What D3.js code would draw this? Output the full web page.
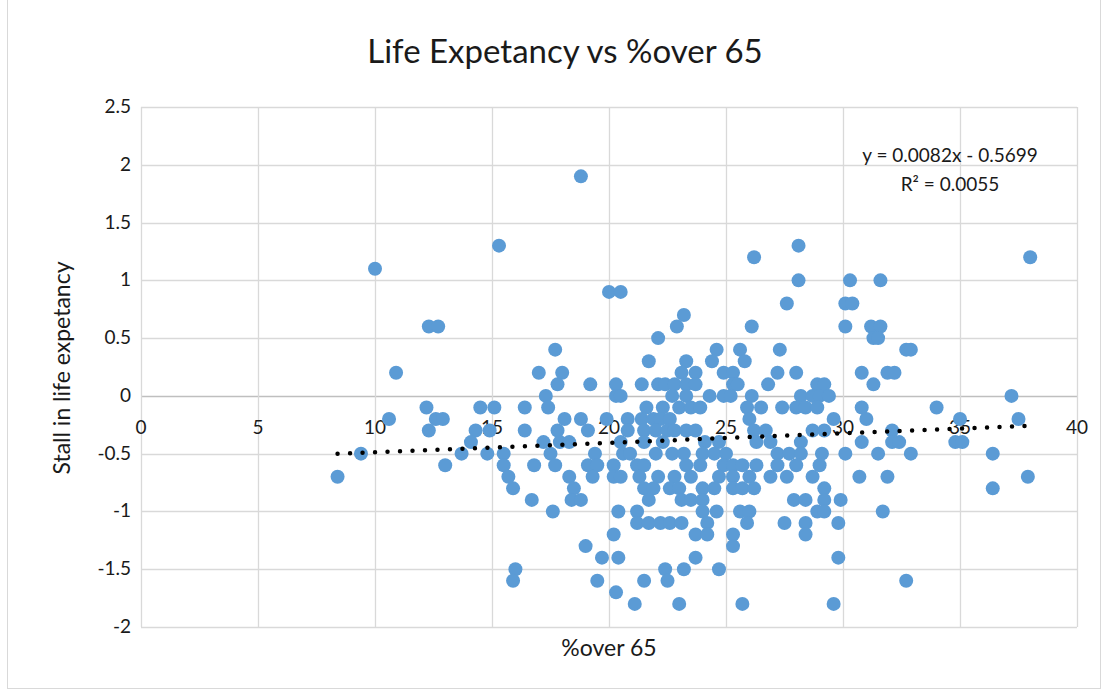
<!DOCTYPE html>
<html lang="en">
<head>
<meta charset="UTF-8">
<title>Life Expetancy vs %over 65</title>
<script src="https://d3js.org/d3.v7.min.js"></script>
<style>
    body { margin: 0; background: #fff; }
    text { font-family: Lato, "Open Sans", sans-serif; fill: #1a1a1a; }
</style>
</head>
<body>
<svg id="chart" width="1103" height="690"></svg>
<script>
    // stall in life expectancy, one entry per row of points
    var stallLevels = [1.9, 1.3, 1.2, 1.1, 1.0, 0.9, 0.8, 0.7, 0.6, 0.5, 0.4, 0.3, 0.2, 0.1, 0.0,
        -0.1, -0.2, -0.3, -0.4, -0.5, -0.6, -0.7, -0.8, -0.9, -1.0, -1.1, -1.2, -1.3, -1.4, -1.5, -1.6, -1.7, -1.8];

    // %over 65 for every point in that row
    var pctOver65 = [
        [18.8],
        [15.3, 28.1],
        [26.2, 38.0],
        [10.0],
        [28.1, 30.3, 31.6],
        [20.0, 20.5],
        [27.6, 30.1, 30.4],
        [23.2],
        [12.3, 12.7, 22.9, 26.1, 30.1, 31.2, 31.6],
        [22.1, 31.3, 31.5],
        [17.7, 24.6, 25.6, 27.3, 32.7, 32.9],
        [21.7, 23.3, 24.4, 25.8],
        [10.9, 17.0, 18.0, 23.1, 23.7, 24.9, 25.3, 27.2, 28.0, 30.8, 31.9, 32.2],
        [17.8, 19.2, 20.3, 21.4, 22.1, 22.4, 22.8, 23.3, 23.7, 25.3, 25.5, 26.8, 28.9, 29.2, 31.3],
        [17.3, 20.3, 20.5, 22.7, 23.3, 24.3, 24.9, 25.2, 26.1, 28.2, 28.7, 29.0, 29.4, 37.2],
        [12.2, 14.5, 15.1, 16.4, 17.4, 21.6, 22.3, 23.0, 23.5, 23.9, 25.9, 26.5, 27.4, 28.0, 28.4, 28.9, 30.8, 34.0],
        [10.6, 12.6, 12.9, 18.1, 18.8, 19.9, 20.8, 21.4, 21.9, 22.2, 22.6, 26.0, 29.6, 31.0, 35.0, 37.5],
        [12.3, 14.3, 14.9, 16.4, 17.8, 19.1, 20.8, 21.5, 22.0, 22.5, 22.8, 23.3, 23.7, 26.2, 26.7, 28.7, 29.2, 32.1],
        [14.1, 17.2, 17.9, 18.3, 20.5, 21.5, 22.3, 24.1, 24.7, 26.3, 26.9, 28.2, 30.8, 32.1, 32.4, 34.8, 35.1],
        [9.4, 13.7, 14.8, 15.5, 17.5, 19.4, 20.6, 20.9, 22.0, 22.7, 23.2, 24.0, 24.5, 25.0, 27.2, 27.7, 28.2, 29.1, 30.1, 31.5, 32.9, 36.4],
        [13.0, 15.5, 16.8, 17.7, 19.1, 19.5, 20.2, 21.2, 21.5, 23.3, 23.9, 24.9, 25.3, 25.7, 26.3, 27.2, 28.0, 29.0],
        [8.4, 15.7, 18.3, 19.3, 20.2, 20.5, 21.3, 22.1, 22.8, 23.5, 24.7, 25.3, 26.0, 26.9, 27.6, 28.7, 30.7, 31.9, 37.9],
        [15.9, 18.5, 21.5, 21.9, 22.6, 23.0, 24.0, 24.5, 25.3, 25.7, 26.2, 29.2, 36.4],
        [16.7, 18.4, 18.8, 21.7, 23.1, 23.5, 24.0, 27.9, 28.4, 29.2, 29.9],
        [17.6, 20.4, 21.2, 24.0, 24.6, 25.6, 26.0, 28.9, 29.2, 31.7],
        [21.2, 21.7, 22.2, 22.6, 23.1, 24.2, 25.9, 27.5, 28.4, 29.8],
        [20.2, 23.7, 24.2, 25.3, 28.4],
        [19.0, 25.3],
        [19.7, 20.4, 23.7, 29.8],
        [16.0, 22.4, 23.2, 24.7],
        [15.9, 19.5, 21.5, 22.5, 32.7],
        [20.3],
        [21.1, 23.0, 25.7, 29.6]
    ];

    var xTicks = [0, 5, 10, 15, 20, 25, 30, 35, 40];
    var yTicks = [-2, -1.5, -1, -0.5, 0, 0.5, 1, 1.5, 2, 2.5];

    // linear trendline as reported by the chart
    var trendSlope = 0.0082;
    var trendIntercept = -0.5699;
    var trendLabel = "y = 0.0082x - 0.5699";
    var r2Label = "R² = 0.0055";

    var points = [];
    stallLevels.forEach(function (s, i) {
        pctOver65[i].forEach(function (p) { points.push({ x: p, y: s }); });
    });

    var svg = d3.select("#chart");

    // outer chart border
    svg.append("rect")
        .attr("x", 7.5).attr("y", -1)
        .attr("width", 1093).attr("height", 689.5)
        .attr("fill", "none").attr("stroke", "#d9d9d9");

    var x = d3.scaleLinear().domain([0, 40]).range([141, 1077]);
    var y = d3.scaleLinear().domain([-2, 2.5]).range([627, 107]);

    // gridlines
    svg.append("g").selectAll("line").data(yTicks).enter().append("line")
        .attr("x1", x(0)).attr("x2", x(40))
        .attr("y1", function (d) { return Math.round(y(d)) + 0.5; })
        .attr("y2", function (d) { return Math.round(y(d)) + 0.5; })
        .attr("stroke", function (d) { return d === 0 ? "#bfbfbf" : "#d9d9d9"; })
        .attr("stroke-width", 1.3);

    svg.append("g").selectAll("line").data(xTicks).enter().append("line")
        .attr("y1", y(2.5)).attr("y2", y(-2))
        .attr("x1", function (d) { return Math.round(x(d)) + 0.5; })
        .attr("x2", function (d) { return Math.round(x(d)) + 0.5; })
        .attr("stroke", "#d9d9d9")
        .attr("stroke-width", 1.3);

    // x tick labels sit under the y=0 line
    svg.append("g").selectAll("text").data(xTicks).enter().append("text")
        .attr("x", function (d) { return x(d); })
        .attr("y", y(0) + 38)
        .attr("text-anchor", "middle")
        .attr("font-size", 19)
        .text(function (d) { return d; });

    svg.append("g").selectAll("text").data(yTicks).enter().append("text")
        .attr("x", 131)
        .attr("y", function (d) { return y(d) + 6; })
        .attr("text-anchor", "end")
        .attr("font-size", 19)
        .text(function (d) { return d; });

    // points
    svg.append("g").selectAll("circle").data(points).enter().append("circle")
        .attr("cx", function (d) { return x(d.x); })
        .attr("cy", function (d) { return y(d.y); })
        .attr("r", 7)
        .attr("fill", "#5b9bd5");

    // dotted trendline across the data range
    var xExtent = d3.extent(points, function (d) { return d.x; });
    svg.append("line")
        .attr("x1", x(xExtent[0])).attr("y1", y(trendSlope * xExtent[0] + trendIntercept))
        .attr("x2", x(xExtent[1])).attr("y2", y(trendSlope * xExtent[1] + trendIntercept))
        .attr("stroke", "#000")
        .attr("stroke-width", 4.5)
        .attr("stroke-linecap", "round")
        .attr("stroke-dasharray", "0 12.5");

    svg.append("text").attr("x", 950).attr("y", 162)
        .attr("text-anchor", "middle").attr("font-size", 19)
        .text(trendLabel);
    svg.append("text").attr("x", 950).attr("y", 191)
        .attr("text-anchor", "middle").attr("font-size", 19)
        .text(r2Label);

    // titles
    svg.append("text").attr("x", 565).attr("y", 63)
        .attr("text-anchor", "middle").attr("font-size", 33)
        .text("Life Expetancy vs %over 65");

    svg.append("text").attr("x", 609).attr("y", 656)
        .attr("text-anchor", "middle").attr("font-size", 23)
        .text("%over 65");

    svg.append("text")
        .attr("transform", "translate(70,368) rotate(-90)")
        .attr("text-anchor", "middle").attr("font-size", 23)
        .text("Stall in life expetancy");
</script>
</body>
</html>
